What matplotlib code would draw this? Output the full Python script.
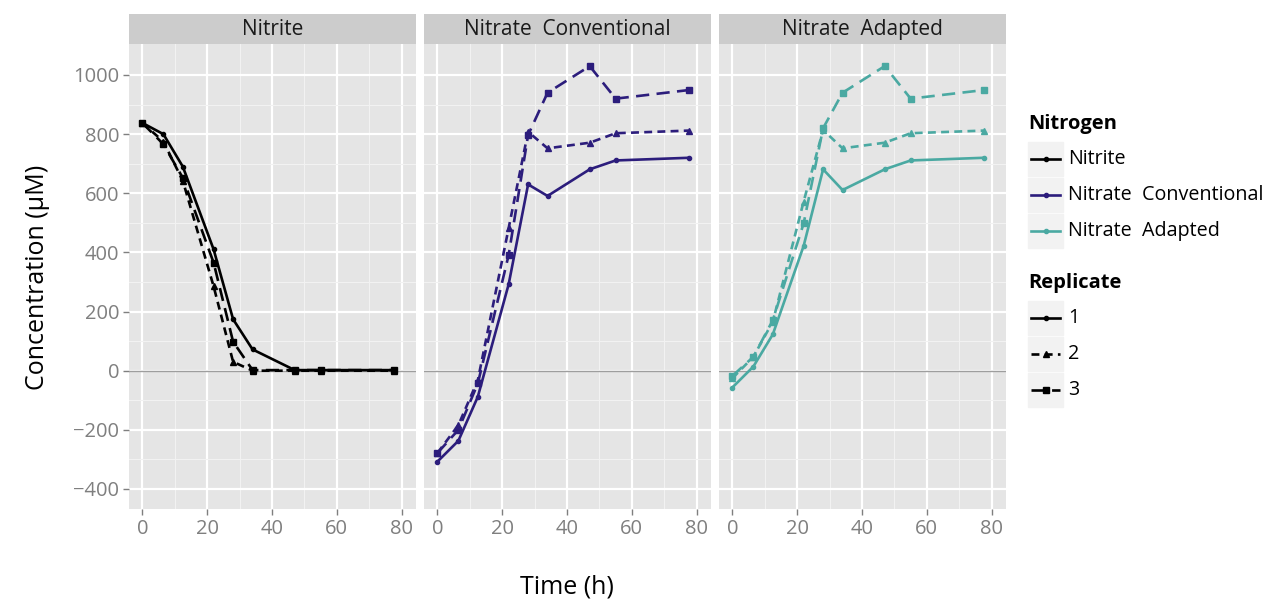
import numpy as np
import matplotlib
matplotlib.use("Agg")
import matplotlib.pyplot as plt
from matplotlib.lines import Line2D
from matplotlib.patches import Rectangle

plt.rcParams['font.family'] = ['Open Sans', 'DejaVu Sans']

# data
time_h = [0, 6.5, 12.5, 22, 28, 34, 47, 55, 77.5]

nitrite_r1 = [838, 800, 690, 410, 174, 72, 2, 2, 2]
nitrite_r2 = [838, 775, 642, 285, 30, 0, 0, 0, 0]
nitrite_r3 = [838, 766, 652, 365, 98, 2, 2, 2, 2]

conv_r1 = [-308, -237, -88, 292, 630, 591, 681, 711, 720]
conv_r2 = [-279, -184, -32, 482, 808, 752, 771, 803, 812]
conv_r3 = [-279, -200, -43, 391, 797, 940, 1030, 920, 949]

adapt_r1 = [-57, 14, 123, 422, 681, 611, 681, 711, 720]
adapt_r2 = [-26, 47, 166, 572, 814, 752, 771, 803, 812]
adapt_r3 = [-18, 47, 171, 498, 820, 940, 1030, 920, 949]

panels = ["Nitrite", "Nitrate  Conventional", "Nitrate  Adapted"]
legend_labels = ["Nitrite", "Nitrate  Conventional", "Nitrate  Adapted"]
replicates = ["1", "2", "3"]
series = [[nitrite_r1, nitrite_r2, nitrite_r3],
          [conv_r1, conv_r2, conv_r3],
          [adapt_r1, adapt_r2, adapt_r3]]

colors = ["#000000", "#2C1D7C", "#4AA9A2"]
dashes = [None, (0, (3.0, 2.0)), (0, (5.0, 2.8))]
markers = ["o", "^", "s"]
msizes = [3.0, 3.8, 4.0]

W, H = 1269, 600
fig = plt.figure(figsize=(W / 100, H / 100), dpi=100)

def fx(px):
    return px / W

def fy(py):
    return 1 - py / H

panel_x = [(129, 416), (424, 711), (719, 1006)]
ptop, pbot, stop = 44.3, 509.3, 14

tick_col = "#7F7F7F"
for i, (x0, x1) in enumerate(panel_x):
    ax = fig.add_axes([fx(x0), fy(pbot), fx(x1 - x0), (pbot - ptop) / H])
    ax.set_facecolor("#E5E5E5")
    for s in ax.spines.values():
        s.set_visible(False)
    ax.set_xlim(-4.1, 84.4)
    ax.set_ylim(-468.7, 1103.8)
    ax.set_xticks([0, 20, 40, 60, 80])
    ax.set_xticks([10, 30, 50, 70], minor=True)
    ax.set_yticks([-400, -200, 0, 200, 400, 600, 800, 1000])
    ax.set_yticks([-300, -100, 100, 300, 500, 700, 900], minor=True)
    ax.grid(which="major", color="white", lw=1.6)
    ax.grid(which="minor", color="#F2F2F2", lw=0.8)
    ax.set_axisbelow(True)
    ax.tick_params(which="major", length=4, width=1, color=tick_col,
                   labelcolor=tick_col, labelsize=14.5, pad=3)
    ax.tick_params(which="minor", length=0)
    if i > 0:
        ax.tick_params(axis="y", which="both", length=0, labelleft=False)
    ax.axhline(0, color="#9E9E9E", lw=1, zorder=1)
    for r in range(3):
        kw = dict(color=colors[i], lw=1.9, marker=markers[r], ms=msizes[r],
                  zorder=3 + r)
        if dashes[r] is not None:
            kw["linestyle"] = dashes[r]
        ax.plot(time_h, series[i][r], **kw)

    # strip
    sax = fig.add_axes([fx(x0), fy(ptop), fx(x1 - x0), (ptop - stop) / H])
    sax.set_facecolor("#CCCCCC")
    sax.set_xticks([])
    sax.set_yticks([])
    for s in sax.spines.values():
        s.set_visible(False)
    sax.text(0.5, 0.48, panels[i], ha="center", va="center", fontsize=15,
             color="#1A1A1A", transform=sax.transAxes)

fig.text(fx(38), fy(277), "Concentration (µM)", rotation=90, ha="center",
         va="center", fontsize=18)
fig.text(fx(567), fy(587), "Time (h)", ha="center", va="center", fontsize=18)

# legend
lax = fig.add_axes([0, 0, 1, 1])
lax.set_xlim(0, W)
lax.set_ylim(H, 0)
lax.axis("off")

def key(yc, color, r):
    lax.add_patch(Rectangle((1028, yc - 17), 35, 34, color="#F2F2F2"))
    kw = dict(color=color, lw=1.9, marker=markers[r], ms=msizes[r],
              markevery=[1])
    if dashes[r] is not None:
        kw["linestyle"] = dashes[r]
    lax.add_line(Line2D([1031, 1045.5, 1060], [yc, yc, yc], **kw))

lax.text(1028, 124, "Nitrogen", fontsize=14.5, fontweight="bold",
         va="center", ha="left")
for k, lab in enumerate(legend_labels):
    yc = 159 + 36 * k
    key(yc, colors[k], 0)
    lax.text(1068, yc, lab, fontsize=14.2, va="center", ha="left")

lax.text(1028, 283, "Replicate", fontsize=14.5, fontweight="bold",
         va="center", ha="left")
for k, lab in enumerate(replicates):
    yc = 318 + 36 * k
    key(yc, "#000000", k)
    lax.text(1068, yc, lab, fontsize=14.2, va="center", ha="left")

fig.savefig("out.png", dpi=100)
